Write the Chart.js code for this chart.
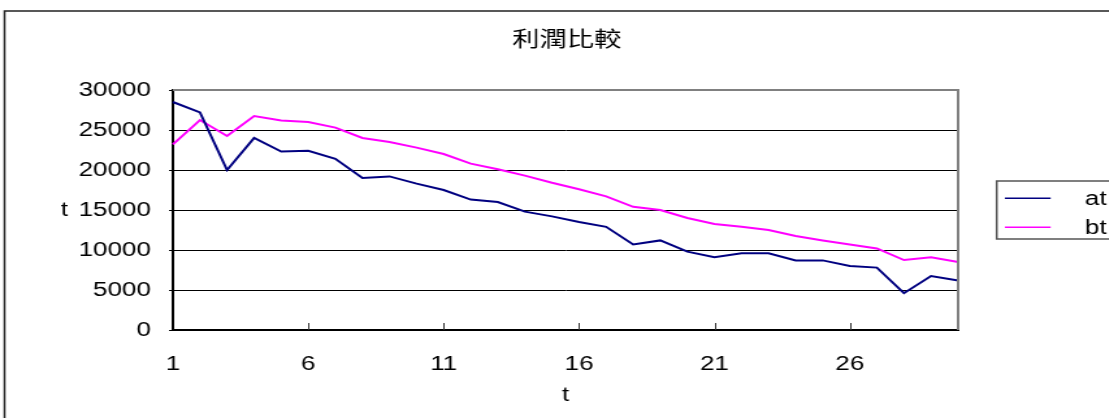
<!DOCTYPE html>
<html>
<head>
<meta charset="utf-8">
<title>利潤比較</title>
<script src="https://cdn.jsdelivr.net/npm/chart.js@4/dist/chart.umd.min.js"></script>
<style>
  html, body { margin: 0; padding: 0; background: #fff; overflow: hidden; }
  #wrap { width: 1109px; height: 418px; overflow: hidden; }
  /* the chart is laid out narrow and widened, giving the wide lettering */
  #c { display: block; transform: scaleX(1.3); transform-origin: 0 0; }
</style>
</head>
<body>
<div id="wrap"><canvas id="c" width="853" height="418"></canvas></div>
<script>
const chartTitle = '利潤比較';
const xTitle = 't';
const yTitle = 't';

const periods = ['1','2','3','4','5','6','7','8','9','10','11','12','13','14','15',
                 '16','17','18','19','20','21','22','23','24','25','26','27','28','29','30'];
const shownPeriods = ['1','6','11','16','21','26'];

const seriesAt = [28500, 27200, 20000, 24000, 22300, 22400, 21400, 19000, 19200, 18300,
                  17500, 16300, 16000, 14800, 14200, 13500, 12900, 10700, 11200, 9800,
                  9100, 9600, 9600, 8700, 8700, 8000, 7800, 4600, 6750, 6200];
const seriesBt = [23200, 26250, 24250, 26750, 26200, 26000, 25300, 24000, 23500, 22800,
                  22000, 20800, 20100, 19300, 18400, 17600, 16700, 15400, 15000, 14000,
                  13250, 12900, 12500, 11750, 11200, 10700, 10200, 8750, 9100, 8500];

const yMin = 0, yMax = 30000, yStep = 5000;

const FONT = '"Liberation Sans", Arial, sans-serif';

// frame, title, axis titles, legend and inward category ticks
const decorations = {
  id: 'decorations',
  beforeDraw(chart) {
    const ctx = chart.ctx;
    ctx.save();
    ctx.fillStyle = '#fff';
    ctx.fillRect(0, 0, chart.width, chart.height);
    ctx.strokeStyle = '#222';
    ctx.lineWidth = 1.5;
    ctx.strokeRect(3.5, 11, 1000, 600);
    ctx.restore();
  },
  afterDraw(chart) {
    const ctx = chart.ctx;
    const a = chart.chartArea;
    const xs = chart.scales.x;
    ctx.save();

    // plot area top and right edges
    ctx.strokeStyle = '#808080';
    ctx.lineWidth = 2;
    ctx.beginPath();
    ctx.moveTo(a.left, a.top);
    ctx.lineTo(a.right, a.top);
    ctx.lineTo(a.right, a.bottom);
    ctx.stroke();

    // tick marks pointing into the plot at the labelled periods
    ctx.strokeStyle = '#333';
    ctx.lineWidth = 1;
    periods.forEach((p, i) => {
      if (shownPeriods.includes(p) && i > 0) {
        const x = Math.round(xs.getPixelForValue(i)) + 0.5;
        ctx.beginPath();
        ctx.moveTo(x, a.bottom);
        ctx.lineTo(x, a.bottom - 7);
        ctx.stroke();
      }
    });

    // title
    ctx.fillStyle = '#000';
    ctx.textAlign = 'center';
    ctx.textBaseline = 'middle';
    ctx.font = '21px "Noto Sans CJK TC", "Noto Sans CJK SC", sans-serif';
    ctx.fillText(chartTitle, (a.left + a.right) / 2 + 1, 38);

    // axis titles
    ctx.font = '20px ' + FONT;
    ctx.fillText(xTitle, (a.left + a.right) / 2, 395);
    ctx.fillText(yTitle, 49.6, (a.top + a.bottom) / 2);

    // legend
    const lx = 766.7, ly = 181, lh = 58;
    ctx.strokeStyle = '#555';
    ctx.lineWidth = 1.5;
    ctx.strokeRect(lx, ly, 200, lh);
    const rows = [198.3, 227.3];
    chart.data.datasets.forEach((ds, i) => {
      const y = rows[i];
      ctx.strokeStyle = ds.borderColor;
      ctx.lineWidth = 1.5;
      ctx.beginPath();
      ctx.moveTo(773, y);
      ctx.lineTo(808.2, y);
      ctx.stroke();
      ctx.fillStyle = '#000';
      ctx.textAlign = 'left';
      ctx.textBaseline = 'middle';
      ctx.fillText(ds.label, 834.6, y + 1);
    });
    ctx.restore();
  }
};

new Chart(document.getElementById('c'), {
  type: 'line',
  data: {
    labels: periods,
    datasets: [
      { label: 'at', data: seriesAt, borderColor: '#000080', backgroundColor: '#000080',
        borderWidth: 2, pointRadius: 0, tension: 0, fill: false },
      { label: 'bt', data: seriesBt, borderColor: '#ff00ff', backgroundColor: '#ff00ff',
        borderWidth: 2, pointRadius: 0, tension: 0, fill: false }
    ]
  },
  options: {
    responsive: false,
    animation: false,
    devicePixelRatio: 1,
    layout: { padding: { top: 90, right: 116, bottom: 0, left: 0 } },
    plugins: {
      legend: { display: false },
      title: { display: false },
      tooltip: { enabled: false }
    },
    scales: {
      x: {
        type: 'category',
        offset: false,
        grid: { display: false },
        border: { display: true, color: '#000', width: 2 },
        ticks: {
          autoSkip: false,
          maxRotation: 0,
          padding: 14,
          color: '#000',
          font: { family: FONT, size: 20 },
          callback: function (value, index) {
            const lab = periods[index];
            return shownPeriods.includes(lab) ? lab : '';
          }
        },
        afterFit(scale) { scale.height = 88; }
      },
      y: {
        min: yMin,
        max: yMax,
        grid: {
          color: ctx => (ctx.tick && ctx.tick.value === yMax) ? '#808080' : '#000',
          lineWidth: 1,
          drawTicks: true,
          tickLength: 3,
          tickColor: '#000'
        },
        border: { display: true, color: '#000', width: 2 },
        ticks: {
          stepSize: yStep,
          padding: 14,
          color: '#000',
          font: { family: FONT, size: 20 },
          callback: value => String(value)
        },
        afterFit(scale) { scale.width = 133; }
      }
    }
  },
  plugins: [decorations]
});
</script>
</body>
</html>
